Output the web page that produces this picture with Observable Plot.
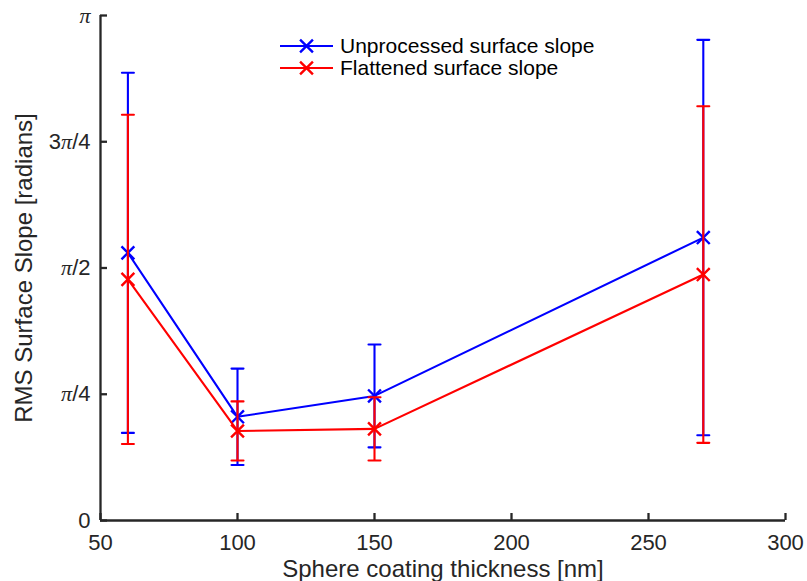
<!DOCTYPE html>
<html><head><meta charset="utf-8">
<script src="https://cdn.jsdelivr.net/npm/d3@7"></script>
<script src="https://cdn.jsdelivr.net/npm/@observablehq/plot@0.6"></script>
<style>body{margin:0;background:#fff}</style>
</head><body><div id="chart"></div>
<script>
const thickness = [60, 100, 150, 270];
const unprocessedMean = [1.665, 0.645, 0.775, 1.760];
const unprocessedErr = [1.12, 0.30, 0.32, 1.23];
const flattenedMean = [1.500, 0.557, 0.570, 1.530];
const flattenedErr = [1.024, 0.184, 0.197, 1.047];
const seriesNames = ["Unprocessed surface slope", "Flattened surface slope"];
const seriesColors = ["#0000ff", "#ff0000"];
const xTicks = [50, 100, 150, 200, 250, 300];
const yTickValues = [0, Math.PI / 4, Math.PI / 2, 3 * Math.PI / 4, Math.PI];
const yTickLabels = ["0", "π/4", "π/2", "3π/4", "π"];
const xLabel = "Sphere coating thickness [nm]";
const yLabel = "RMS Surface Slope [radians]";

const means = [unprocessedMean, flattenedMean];
const errs = [unprocessedErr, flattenedErr];
const rowsBySeries = seriesNames.map((name, s) => thickness.map((t, i) => ({
  t, series: name, mean: means[s][i], lo: means[s][i] - errs[s][i], hi: means[s][i] + errs[s][i]
})));

const axisColor = "#262626";
const fontFam = "'Liberation Sans', Arial, Helvetica, sans-serif";
const capShape = {draw(context, l) { context.moveTo(-l / 2, 0); context.lineTo(l / 2, 0); }};
const markerR = 5.9;

const seriesMarks = rowsBySeries.flatMap((rows, s) => {
  const c = seriesColors[s];
  return [
    Plot.line(rows, {x: "t", y: "mean", stroke: c, strokeWidth: 2.1}),
    Plot.ruleX(rows, {x: "t", y1: "lo", y2: "hi", stroke: c, strokeWidth: 2.1}),
    Plot.vector(rows, {x: "t", y: "hi", length: 12, rotate: 0, anchor: "start", shape: capShape, stroke: c, strokeWidth: 2.1}),
    Plot.vector(rows, {x: "t", y: "lo", length: 12, rotate: 0, anchor: "start", shape: capShape, stroke: c, strokeWidth: 2.1}),
    Plot.dot(rows, {x: "t", y: "mean", symbol: "times", r: markerR, stroke: c, strokeWidth: 2.4})
  ];
});

const chart = Plot.plot({
  width: 807,
  height: 581,
  marginLeft: 100,
  marginRight: 22,
  marginTop: 15,
  marginBottom: 61,
  style: {fontFamily: fontFam, fontSize: "22px", color: axisColor, background: "#fff"},
  x: {domain: [50, 300]},
  y: {domain: [0, Math.PI]},
  marks: [
    Plot.axisX(xTicks, {tickSize: -7, tickPadding: 21, strokeWidth: 2.3, fontSize: 22, color: axisColor,
      label: xLabel, labelAnchor: "center", labelOffset: 56, labelArrow: false}),
    Plot.axisY(yTickValues, {tickSize: -7, tickPadding: 17, strokeWidth: 2.3, fontSize: 22, color: axisColor,
      tickFormat: d => yTickLabels[yTickValues.indexOf(d)],
      label: yLabel, labelAnchor: "center", labelOffset: 86, labelArrow: false}),
    Plot.ruleY([0], {stroke: axisColor, strokeWidth: 2.3}),
    Plot.ruleX([50], {stroke: axisColor, strokeWidth: 2.3}),
    ...seriesMarks
  ]
});
document.getElementById("chart").appendChild(chart);

const svg = d3.select(chart);
// axis labels slightly larger than tick labels
svg.selectAll('g[aria-label="x-axis label"] text, g[aria-label="y-axis label"] text').attr("font-size", 24);

// italic pi in y tick labels
svg.selectAll('g[aria-label="y-axis tick label"] text').each(function() {
  const txt = this.textContent;
  if (!txt.includes("π")) return;
  const sel = d3.select(this);
  sel.text(null);
  txt.split(/(π)/).filter(p => p !== "").forEach(p => {
    const ts = sel.append("tspan").text(p);
    if (p === "π") ts.attr("font-style", "italic").attr("font-family", "'Liberation Serif', 'DejaVu Serif', serif");
  });
});

// legend
const lg = svg.append("g").attr("font-family", fontFam).attr("font-size", 21).attr("fill", "#000").attr("text-anchor", "start");
seriesNames.forEach((name, i) => {
  const y = 46 + i * 22;
  lg.append("line").attr("x1", 280).attr("x2", 333).attr("y1", y).attr("y2", y)
    .attr("stroke", seriesColors[i]).attr("stroke-width", 2.1);
  lg.append("path").attr("d", d3.symbol(d3.symbolTimes, Math.PI * markerR * markerR)())
    .attr("transform", `translate(306.5,${y})`).attr("stroke", seriesColors[i]).attr("stroke-width", 2.4).attr("fill", "none");
  lg.append("text").attr("x", 340).attr("y", y).attr("dy", "0.35em").attr("text-anchor", "start").text(name);
});
</script>
</body></html>
